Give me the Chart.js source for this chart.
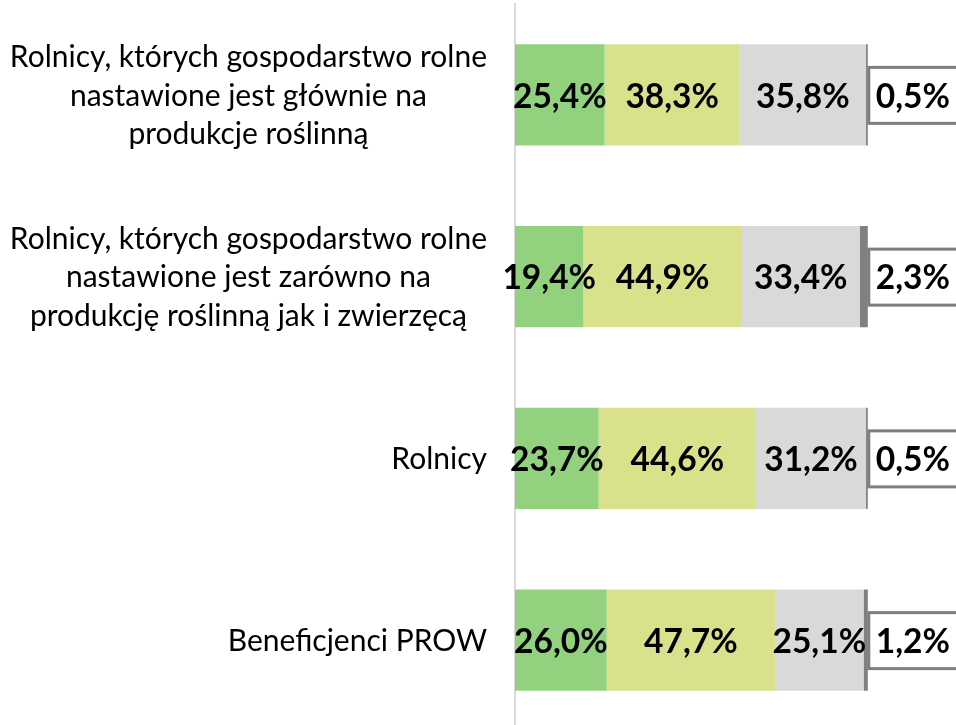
<!DOCTYPE html>
<html>
<head>
<meta charset="utf-8">
<script src="https://cdn.jsdelivr.net/npm/chart.js@4"></script>
<style>
    html, body { margin: 0; padding: 0; background: #fff; overflow: hidden; }
    #wrap { width: 956px; height: 731px; }
</style>
</head>
<body>
<div id="wrap"><canvas id="chart" width="956" height="731"></canvas></div>
<script>
const categories = [
    ['Rolnicy, których gospodarstwo rolne', 'nastawione jest głównie na', 'produkcje roślinną'],
    ['Rolnicy, których gospodarstwo rolne', 'nastawione jest zarówno na', 'produkcję roślinną jak i zwierzęcą'],
    ['Rolnicy'],
    ['Beneficjenci PROW']
];
const series1 = [25.4, 19.4, 23.7, 26.0];
const series2 = [38.3, 44.9, 44.6, 47.7];
const series3 = [35.8, 33.4, 31.2, 25.1];
const series4 = [0.5, 2.3, 0.5, 1.2];

const colors = ['#92d17d', '#d9e18a', '#d9d9d9', '#808080'];
const fmt = v => v.toFixed(1).replace('.', ',') + '%';

// category labels: block right-aligned, lines centered inside the block
const categoryLabels = {
    id: 'categoryLabels',
    afterDraw(chart) {
        const ctx = chart.ctx;
        const y = chart.scales.y;
        const right = 487;
        const lineH = 38.5;
        ctx.save();
        ctx.font = '30px Lato';
        ctx.fillStyle = '#000';
        ctx.textAlign = 'center';
        ctx.textBaseline = 'middle';
        categories.forEach((lines, i) => {
            const cy = y.getPixelForValue(i);
            const w = Math.max(...lines.map(l => ctx.measureText(l).width));
            const cx = right - w / 2;
            lines.forEach((l, k) => {
                ctx.fillText(l, cx, cy + (k - (lines.length - 1) / 2) * lineH + 1);
            });
        });
        ctx.restore();
    }
};

// value labels inside segments, last one in a boxed label past the bar end
const valueLabels = {
    id: 'valueLabels',
    afterDatasetsDraw(chart) {
        const ctx = chart.ctx;
        ctx.save();
        ctx.font = 'bold 33.5px Lato';
        ctx.textAlign = 'center';
        ctx.textBaseline = 'middle';
        chart.data.datasets.forEach((ds, di) => {
            const meta = chart.getDatasetMeta(di);
            meta.data.forEach((bar, j) => {
                const txt = fmt(ds.data[j]);
                if (di === 3) {
                    const left = bar.x + 1;
                    ctx.fillStyle = '#fff';
                    ctx.strokeStyle = '#7f7f7f';
                    ctx.lineWidth = 3;
                    ctx.fillRect(left, bar.y - 27.5, 95, 56);
                    ctx.strokeRect(left, bar.y - 27.5, 95, 56);
                    ctx.fillStyle = '#000';
                    ctx.fillText(txt, left + 44, bar.y + 2);
                } else {
                    ctx.fillStyle = '#000';
                    ctx.fillText(txt, (bar.x + bar.base) / 2, bar.y + 2);
                }
            });
        });
        ctx.restore();
    }
};

new Chart(document.getElementById('chart').getContext('2d'), {
    type: 'bar',
    data: {
        labels: categories.map(c => c.join(' ')),
        datasets: [
            { label: 'Seria 1', data: series1, backgroundColor: colors[0] },
            { label: 'Seria 2', data: series2, backgroundColor: colors[1] },
            { label: 'Seria 3', data: series3, backgroundColor: colors[2] },
            { label: 'Seria 4', data: series4, backgroundColor: colors[3] }
        ]
    },
    options: {
        indexAxis: 'y',
        responsive: false,
        animation: false,
        layout: { padding: { left: 515, top: 4, right: 0, bottom: 0 } },
        datasets: { bar: { categoryPercentage: 1, barPercentage: 0.557 } },
        scales: {
            x: { stacked: true, min: 0, max: 125, display: false },
            y: {
                stacked: true,
                grid: { display: false, drawTicks: false },
                ticks: { display: false },
                border: { display: true, color: '#d9d9d9', width: 2 }
            }
        },
        plugins: { legend: { display: false }, tooltip: { enabled: false } }
    },
    plugins: [categoryLabels, valueLabels]
});
</script>
</body>
</html>
